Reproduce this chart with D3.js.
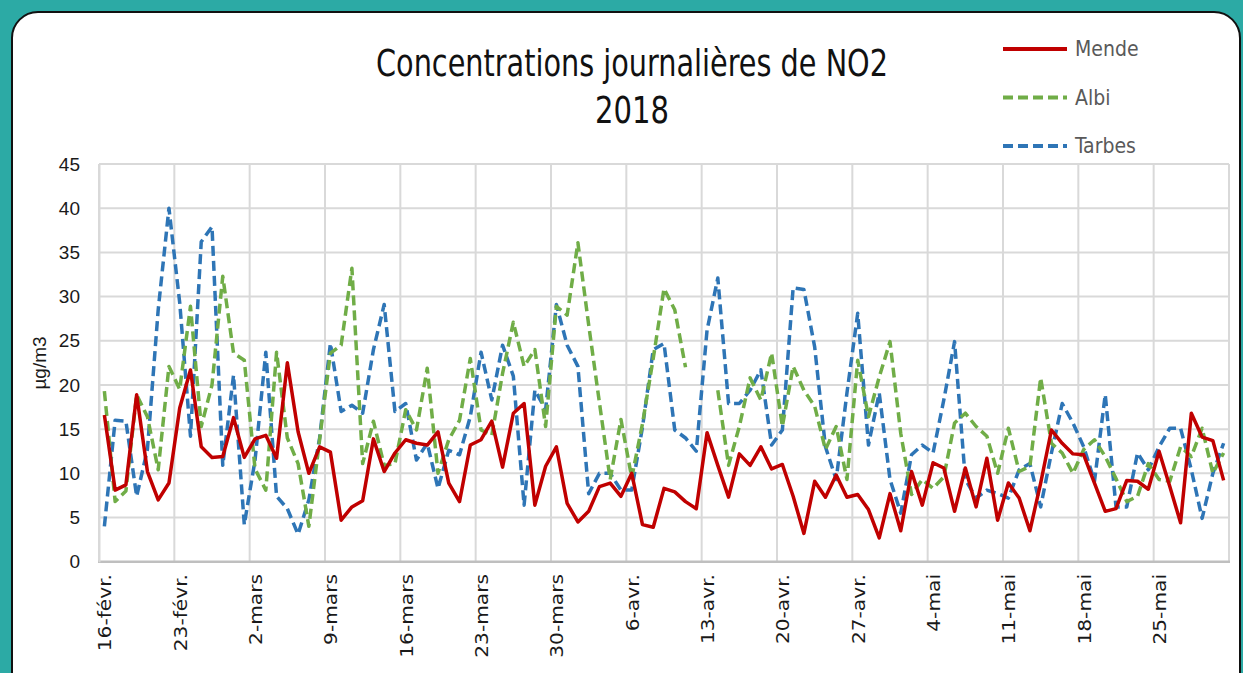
<!DOCTYPE html>
<html>
<head>
<meta charset="utf-8">
<script src="https://cdn.jsdelivr.net/npm/d3@7"></script>
<style>
  html, body { margin: 0; padding: 0; background: #2caaa5; }
  svg { display: block; }
</style>
</head>
<body>
<div id="chart"></div>
<script>
// daily NO2 (µg/m3), 16 Feb -> 31 May 2018
const startDay = new Date(2018, 1, 16)
const endDay = new Date(2018, 5, 1)

const mende = [16.6, 8.1, 8.7, 18.9, 10.2, 7.0, 8.9, 17.4, 21.7, 13.0, 11.8, 11.9, 16.3, 11.8,
  13.9, 14.3, 11.7, 22.5, 14.7, 10.0, 13.0, 12.4, 4.7, 6.2, 6.9, 13.9, 10.2, 12.3,
  13.8, 13.4, 13.2, 14.7, 8.9, 6.8, 13.2, 13.8, 15.9, 10.7, 16.8, 17.9, 6.4, 10.8,
  13.0, 6.6, 4.5, 5.7, 8.5, 8.9, 7.4, 10.0, 4.2, 3.9, 8.3, 7.9, 6.8, 6.0,
  14.6, 10.9, 7.3, 12.2, 10.9, 13.0, 10.5, 11.0, 7.4, 3.2, 9.1, 7.3, 9.8, 7.3,
  7.6, 5.9, 2.7, 7.7, 3.5, 10.2, 6.4, 11.2, 10.6, 5.7, 10.6, 6.2, 11.7, 4.7,
  8.9, 7.2, 3.5, 8.9, 14.9, 13.4, 12.2, 12.1, 8.9, 5.7, 6.0, 9.2, 9.1, 8.2,
  12.5, 8.5, 4.4, 16.8, 14.1, 13.7, 9.2]

const albi = [19.3, 6.8, 8.0, 18.9, 16.4, 10.4, 22.1, 19.5, 28.9, 15.3, 20.0, 32.3, 23.6, 22.8,
  10.5, 8.1, 23.7, 14.0, 11.1, 4.0, 13.8, 23.6, 24.5, 33.2, 11.1, 15.9, 10.9, 11.1,
  17.2, 14.9, 21.9, 10.0, 13.8, 16.0, 23.0, 14.9, 14.3, 21.3, 27.1, 22.1, 24.0, 15.3,
  28.9, 27.9, 36.1, 26.8, 18.0, 9.3, 16.1, 9.5, 15.6, 23.0, 30.9, 28.5, 22.0, null,
  null, 19.4, 10.9, 15.3, 20.8, 18.3, 23.6, 15.3, 22.1, 19.4, 17.6, 12.7, 15.3, 9.3,
  22.8, 16.4, 20.9, 24.9, 14.5, 7.6, 9.3, 8.3, 9.6, 15.7, 16.8, 15.3, 14.2, 10.0,
  15.1, 10.2, 10.8, 20.8, 13.4, 12.3, 10.0, 12.7, 13.8, 11.9, 9.4, 6.8, 7.4, 11.1,
  9.3, 9.1, 13.0, 11.9, 15.1, 10.0, 12.3]

const tarbes = [4.0, 16.0, 15.9, 7.4, 12.7, 28.5, 40.0, 29.3, 14.2, 36.2, 37.9, 10.9, 21.1, 4.2,
  11.5, 23.7, 7.4, 6.0, 3.1, 7.0, 14.0, 24.7, 17.0, 17.7, 16.8, 24.0, 29.1, 17.0,
  17.9, 11.5, 13.4, 8.3, 12.6, 12.1, 16.4, 23.7, 18.3, 24.5, 21.0, 6.4, 19.4, 17.2,
  29.1, 24.5, 22.1, 7.7, 10.0, 10.0, 8.1, 8.1, 15.2, 24.0, 24.7, 14.9, 14.0, 12.5,
  26.2, 32.1, 17.9, 17.9, 19.4, 21.7, 13.2, 14.9, 31.0, 30.8, 24.3, 13.0, 9.3, 19.1,
  28.1, 13.2, 19.1, 9.3, 5.5, 12.1, 13.2, 12.3, 18.3, 24.9, 9.3, 7.2, 8.1, 7.7,
  7.2, 10.4, 11.1, 6.2, 12.3, 17.9, 15.7, 13.0, 9.1, 18.9, 6.2, 6.2, 12.3, 10.4,
  13.0, 15.1, 15.1, 10.4, 4.9, 10.0, 13.4]

const tickLabels = ["16-févr.", "23-févr.", "2-mars", "9-mars", "16-mars", "23-mars", "30-mars",
  "6-avr.", "13-avr.", "20-avr.", "27-avr.", "4-mai", "11-mai", "18-mai", "25-mai"]
const yTicks = [0, 5, 10, 15, 20, 25, 30, 35, 40, 45]

const series = [
  {name: "Tarbes", values: tarbes, color: "#2e75b6", dash: "10,5"},
  {name: "Albi", values: albi, color: "#70ad47", dash: "10,5"},
  {name: "Mende", values: mende, color: "#c00000", dash: null},
]
const legendOrder = ["Mende", "Albi", "Tarbes"]

const width = 1243, height = 673
const narrow = "'Liberation Sans Narrow', 'Arial Narrow', 'DejaVu Sans Condensed', sans-serif"

const svg = d3.select("#chart").append("svg")
  .attr("width", width).attr("height", height)

// card
svg.append("rect")
  .attr("x", 12).attr("y", 12).attr("width", 1228).attr("height", 720)
  .attr("rx", 26)
  .attr("fill", "white").attr("stroke", "#111").attr("stroke-width", 2)

const days = d3.timeDay.range(startDay, endDay)
const noon = d => d3.timeHour.offset(d, 12)

const x = d3.scaleTime().domain([startDay, endDay]).range([99, 1229])
const y = d3.scaleLinear().domain([0, 45]).range([561.7, 164])

const weekStarts = d3.range(0, days.length, 7).map(i => days[i])

// grid
const grid = svg.append("g")
grid.selectAll("line.h").data(yTicks.slice(1)).join("line")
  .attr("x1", 99).attr("x2", 1229)
  .attr("y1", d => y(d)).attr("y2", d => y(d))
  .attr("stroke", "#d9d9d9").attr("stroke-width", 2)
grid.selectAll("line.v").data(d3.range(0, days.length + 1, 7)).join("line")
  .attr("x1", i => x(d3.timeDay.offset(startDay, i))).attr("x2", i => x(d3.timeDay.offset(startDay, i)))
  .attr("y1", y(45)).attr("y2", y(0))
  .attr("stroke", "#d9d9d9").attr("stroke-width", 2)

// axes
svg.append("line").attr("x1", 98).attr("x2", 1230).attr("y1", y(0)).attr("y2", y(0))
  .attr("stroke", "#bfbfbf").attr("stroke-width", 2.5)

const yAxis = svg.append("g").attr("transform", "translate(99,0)")
  .call(d3.axisLeft(y).tickValues(yTicks).tickSize(0).tickPadding(19))
yAxis.select(".domain").attr("stroke", "#d9d9d9").attr("stroke-width", 2)
yAxis.selectAll("text")
  .attr("font-family", "'Liberation Sans', Arial, sans-serif")
  .attr("font-size", 19).attr("fill", "#1a1a1a")

svg.append("text")
  .attr("transform", "translate(46,363) rotate(-90)")
  .attr("text-anchor", "middle")
  .attr("font-family", "'Liberation Sans', Arial, sans-serif")
  .attr("font-size", 19).attr("fill", "#1a1a1a")
  .text("µg/m3")

// x labels, rotated
svg.append("g").selectAll("text").data(weekStarts).join("text")
  .attr("transform", (d, i) => `translate(${x(noon(d)) + 7},574) scale(1,1.12) rotate(-90)`)
  .attr("text-anchor", "end")
  .attr("font-family", "'DejaVu Sans', sans-serif")
  .attr("font-size", 18).attr("fill", "#1a1a1a")
  .text((d, i) => tickLabels[i])

// lines
const line = d3.line()
  .defined(d => d.v != null)
  .x(d => x(noon(d.date)))
  .y(d => y(d.v))

svg.append("g").selectAll("path").data(series).join("path")
  .attr("d", s => line(s.values.map((v, i) => ({date: days[i], v}))))
  .attr("fill", "none")
  .attr("stroke", s => s.color)
  .attr("stroke-width", 3.5)
  .attr("stroke-linejoin", "round")
  .attr("stroke-dasharray", s => s.dash)

// title
const title = svg.append("g").attr("font-family", narrow).attr("fill", "#111")
  .attr("text-anchor", "middle").attr("font-size", 38)
title.append("text").attr("x", 632).attr("y", 76)
  .attr("textLength", 512).attr("lengthAdjust", "spacingAndGlyphs")
  .text("Concentrations journalières de NO2")
title.append("text").attr("x", 632).attr("y", 123)
  .attr("textLength", 74).attr("lengthAdjust", "spacingAndGlyphs")
  .text("2018")

// legend
const legend = svg.append("g")
legendOrder.forEach((name, i) => {
  const s = series.find(d => d.name == name)
  const ly = 49 + i * 48.5
  legend.append("line")
    .attr("x1", 1003).attr("x2", 1067).attr("y1", ly).attr("y2", ly)
    .attr("stroke", s.color).attr("stroke-width", 4)
    .attr("stroke-dasharray", s.dash ? "10,5" : null)
  legend.append("text")
    .attr("x", 1075).attr("y", ly + 7)
    .attr("font-family", narrow).attr("font-size", 21)
    .attr("fill", "#595959")
    .text(name)
})
</script>
</body>
</html>
